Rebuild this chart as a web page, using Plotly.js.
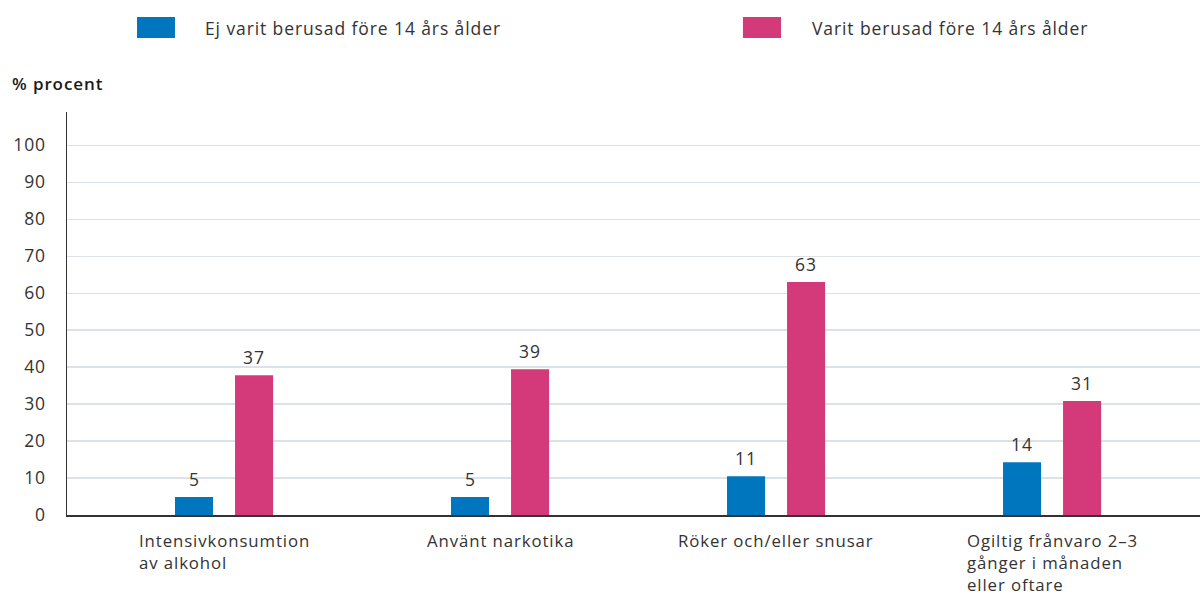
<!DOCTYPE html>
<html>
<head>
<meta charset="utf-8">
<script src="https://cdn.plot.ly/plotly-3.0.1.min.js"></script>
<style>html,body{margin:0;padding:0;background:#fff;}#chart{width:1200px;height:595px;} text{letter-spacing:0.9px;}</style>
</head>
<body>
<div id="chart"></div>
<script>
const categories = ["Intensivkonsumtion<br>av alkohol", "Använt narkotika", "Röker och/eller snusar", "Ogiltig frånvaro 2–3<br>gånger i månaden<br>eller oftare"];
const seriesNames = ["Ej varit berusad före 14 års ålder", "Varit berusad före 14 års ålder"];
const notDrunk = [4.9, 4.9, 10.5, 14.3];
const drunk = [37.8, 39.4, 63.0, 30.8];
const notDrunkLabels = ["5", "5", "11", "14"];
const drunkLabels = ["37", "39", "63", "31"];
const yTicks = [0, 10, 20, 30, 40, 50, 60, 70, 80, 90, 100];

const BLUE = "#0076be";
const PINK = "#d4397a";
const TXT = "#333333";
const FONT = "'Open Sans', 'Noto Sans', sans-serif";
const FS = 17.5;

const idx = categories.map((c, i) => i);

const traces = [
  {type: "bar", name: seriesNames[0], x: idx, y: notDrunk, marker: {color: BLUE}, hoverinfo: "y"},
  {type: "bar", name: seriesNames[1], x: idx, y: drunk, marker: {color: PINK}, hoverinfo: "y"}
];

const off = 0.1087;
const annotations = [];
idx.forEach(i => {
  annotations.push({x: i - off, y: notDrunk[i], xref: "x", yref: "y", text: notDrunkLabels[i], showarrow: false, yanchor: "bottom", yshift: 4, font: {size: FS, color: TXT, family: FONT}});
  annotations.push({x: i + off, y: drunk[i], xref: "x", yref: "y", text: drunkLabels[i], showarrow: false, yanchor: "bottom", yshift: 4, font: {size: FS, color: TXT, family: FONT}});
  annotations.push({x: i, y: -0.03, xref: "x", yref: "paper", text: categories[i], showarrow: false, xanchor: "center", yanchor: "top", align: "left", font: {size: 16.8, color: TXT, family: FONT}});
});
annotations.push({x: 0.12, y: 1.2084, xref: "paper", yref: "paper", text: seriesNames[0], showarrow: false, xanchor: "left", yanchor: "middle", font: {size: FS, color: TXT, family: FONT}});
annotations.push({x: 0.6558, y: 1.2084, xref: "paper", yref: "paper", text: seriesNames[1], showarrow: false, xanchor: "left", yanchor: "middle", font: {size: FS, color: TXT, family: FONT}});
annotations.push({x: -0.0503, y: 1.0695, xref: "paper", yref: "paper", text: "% procent", showarrow: false, xanchor: "left", yanchor: "middle", font: {size: 17, color: "#1a1a1a", family: FONT, weight: 600}});

const shapes = [
  {type: "rect", xref: "paper", yref: "paper", x0: 0.0618, x1: 0.0953, y0: 1.1836, y1: 1.2357, fillcolor: BLUE, line: {width: 0}},
  {type: "rect", xref: "paper", yref: "paper", x0: 0.5966, x1: 0.6302, y0: 1.1836, y1: 1.2357, fillcolor: PINK, line: {width: 0}}
];

const layout = {
  width: 1200, height: 595,
  margin: {l: 67, r: 0, t: 112, b: 80},
  paper_bgcolor: "#fff", plot_bgcolor: "#fff",
  showlegend: false,
  barmode: "group",
  bargap: 0.565,
  bargroupgap: 0.366,
  font: {family: FONT, color: TXT, size: FS},
  xaxis: {
    range: [-0.569, 3.536],
    tickvals: idx, showticklabels: false,
    showgrid: false, zeroline: false,
    showline: true, linecolor: "#333", linewidth: 1.5,
    fixedrange: true
  },
  yaxis: {
    range: [0, 109],
    tickvals: yTicks, ticktext: yTicks.map(String),
    showgrid: true, gridcolor: "#dde2e6", gridwidth: 1.3,
    zeroline: false,
    showline: true, linecolor: "#333", linewidth: 1.5,
    ticks: "", ticklabelstandoff: 16,
    tickfont: {size: FS, color: TXT, family: FONT},
    fixedrange: true
  },
  annotations: annotations,
  shapes: shapes
};

Plotly.newPlot("chart", traces, layout, {displayModeBar: false, staticPlot: true});
</script>
</body>
</html>
